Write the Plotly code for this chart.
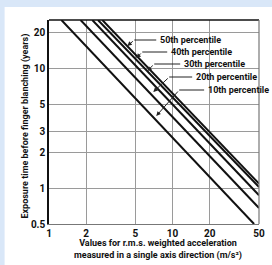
import plotly.graph_objects as go
import math

# ---- data ----
percentiles = ["10th percentile", "20th percentile", "30th percentile", "40th percentile", "50th percentile"]
x_top = [1.26, 1.80, 2.24, 2.49, 2.70]       # acceleration where each line leaves the top edge
y_top = [25.6, 25.6, 25.6, 25.6, 25.6]       # years at top edge
x_end = [45.6, 50.0, 50.0, 50.0, 50.0]       # acceleration at lower/right end
y_end = [0.50, 0.68, 0.87, 1.02, 1.09]       # years at lower/right end

x_ticks = [1, 2, 5, 10, 20, 50]
y_ticks = [0.5, 1, 2, 3, 5, 10, 20]

W, H = 272, 265
L, R, T, B = 48.5, 13, 20, 41
PW, PH = W - L - R, H - T - B

def px(x):
    return (x - L) / PW

def py(y):
    return (H - B - y) / PH

FONT = "Roboto, Liberation Sans, sans-serif"
FS = 9

fig = go.Figure()
for name, xa, ya, xb, yb in zip(percentiles, x_top, y_top, x_end, y_end):
    fig.add_trace(go.Scatter(x=[xa, xb], y=[ya, yb], mode="lines", name=name,
                             line=dict(color="#111111", width=2), showlegend=False,
                             hoverinfo="skip"))

shapes = [
    # white panel over blue page
    dict(type="rect", xref="paper", yref="paper", x0=px(4), x1=px(W + 5), y0=py(H + 5), y1=py(7),
         fillcolor="white", line=dict(width=0), layer="below"),
    # top border (black) and right border (grey)
    dict(type="line", xref="paper", yref="paper", x0=0, x1=1, y0=1, y1=1,
         line=dict(color="#111111", width=1.5)),
    dict(type="line", xref="paper", yref="paper", x0=1, x1=1, y0=0, y1=1,
         line=dict(color="#777777", width=1.2)),
]

annotations = []
# label: text left px, text y px, knee x px, tip x px, tip y px
labels = [
    ("50th percentile", 158, 40, 134, 127, 46),
    ("40th percentile", 169, 52, 142, 136, 58),
    ("30th percentile", 182, 64, 154, 147, 71),
    ("20th percentile", 194, 77, 169, 153, 92),
    ("10th percentile", 206, 90, 179, 156, 116),
]
for txt, tx, ty, kx, tipx, tipy in labels:
    annotations.append(dict(text=txt, xref="paper", yref="paper", x=px(tx), y=py(ty),
                            xanchor="left", yanchor="middle", showarrow=False,
                            font=dict(family=FONT, size=FS, color="#111111", weight=700)))
    shapes.append(dict(type="line", xref="paper", yref="paper", x0=px(kx), x1=px(tx - 2),
                       y0=py(ty), y1=py(ty), line=dict(color="#222222", width=1)))
    annotations.append(dict(text="", xref="paper", yref="paper", x=px(tipx), y=py(tipy),
                            ax=kx - tipx, ay=ty - tipy, axref="pixel", ayref="pixel",
                            showarrow=True, arrowhead=2, arrowsize=0.9, arrowwidth=1,
                            arrowcolor="#222222"))

annotations.append(dict(text="Exposure time before finger blanching (years)", xref="paper", yref="paper",
                        x=px(25), y=py(126), textangle=-90, showarrow=False,
                        xanchor="center", yanchor="middle",
                        font=dict(family=FONT, size=FS, color="#111111", weight=700)))
annotations.append(dict(text="Values for r.m.s. weighted acceleration<br>measured in a single axis direction (m/s²)",
                        xref="paper", yref="paper", x=px(158), y=py(249), showarrow=False,
                        xanchor="center", yanchor="middle",
                        font=dict(family=FONT, size=FS, color="#111111", weight=700)))

fig.update_layout(
    width=W, height=H,
    margin=dict(l=L, r=R, t=T, b=B, pad=0),
    paper_bgcolor="#d9e7f8",
    plot_bgcolor="white",
    shapes=shapes,
    annotations=annotations,
    xaxis=dict(type="log", range=[0, math.log10(50)], tickvals=x_ticks,
               ticktext=[str(v) for v in x_ticks],
               showgrid=True, gridcolor="#9a9a9a", gridwidth=1,
               showline=True, linecolor="#777777", linewidth=1.2,
               ticks="", zeroline=False, automargin=False,
               tickfont=dict(family=FONT, size=10, color="#111111", weight=700)),
    yaxis=dict(type="log", range=[math.log10(0.5), math.log10(25.6)], tickvals=y_ticks,
               ticktext=[str(v) for v in y_ticks],
               showgrid=True, gridcolor="#9a9a9a", gridwidth=1,
               showline=True, linecolor="#111111", linewidth=1.5,
               ticks="", zeroline=False, automargin=False,
               tickfont=dict(family=FONT, size=10, color="#111111", weight=700)),
)

fig.write_html("out.html", config={"displayModeBar": False},
               post_script="document.body.style.margin='0';document.body.style.overflow='hidden';")
